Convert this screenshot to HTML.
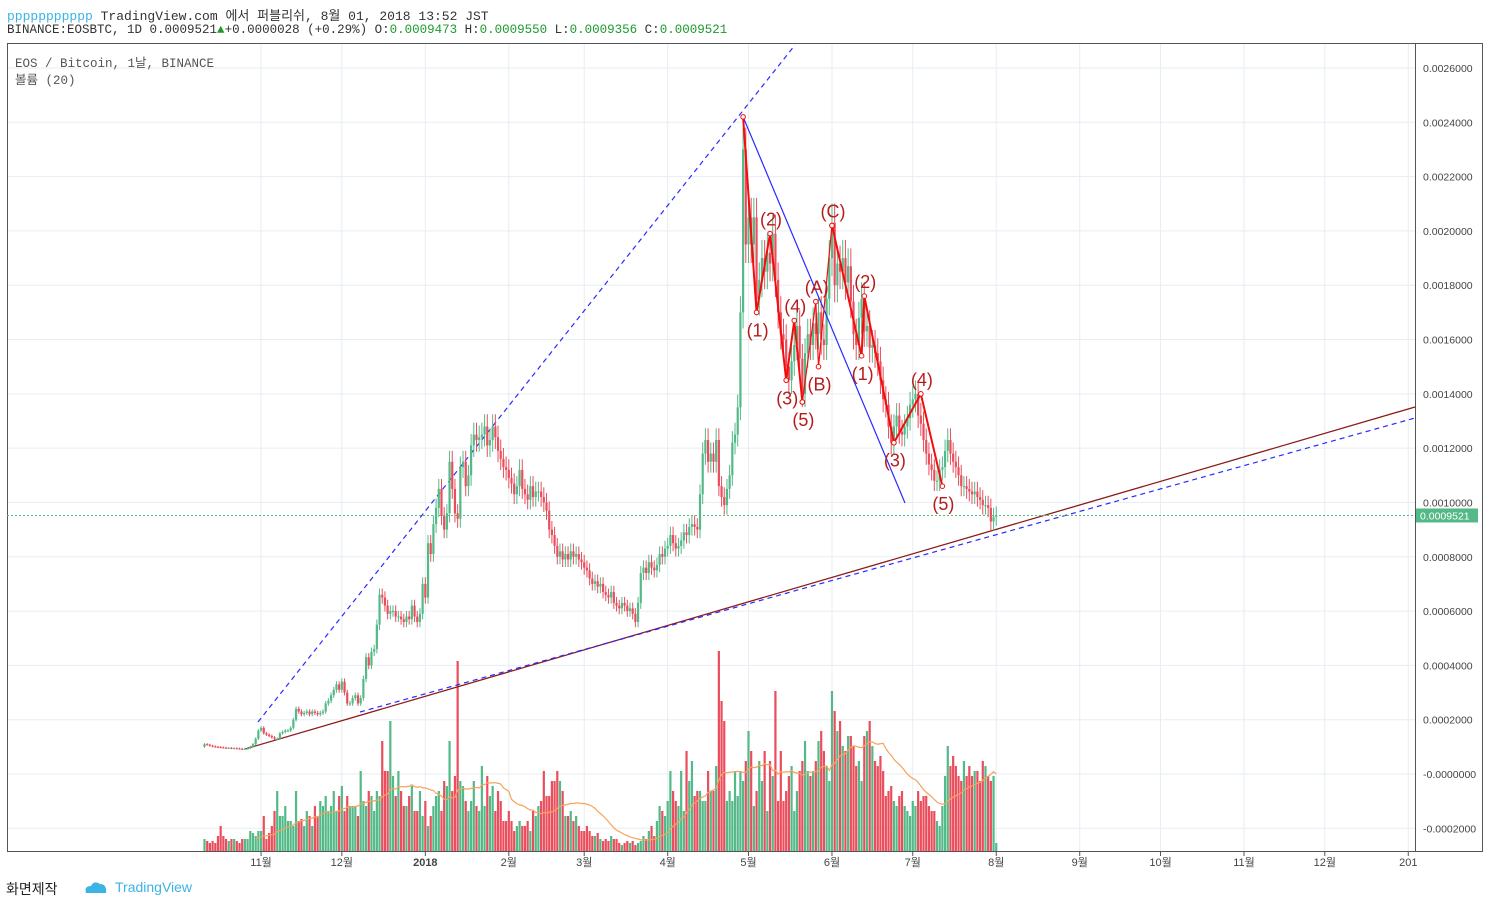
<!DOCTYPE html>
<html><head><meta charset="utf-8">
<style>
body{margin:0;background:#fff;font-family:"Liberation Sans","Noto Sans CJK KR",sans-serif;}
#wrap{position:relative;width:1489px;height:907px;overflow:hidden;background:#fff;}
.hdr{position:absolute;left:7px;font-family:"Liberation Mono","Noto Sans CJK KR",monospace;font-size:13px;color:#333;white-space:nowrap;}
</style></head><body>
<div id="wrap">
<div class="hdr" style="top:5px"><span style="color:#3bb3e4">ppppppppppp</span> TradingView.com 에서 퍼블리쉬, 8월 01, 2018 13:52 JST</div>
<div class="hdr" style="top:23px;font-size:12.5px">BINANCE:EOSBTC, 1D 0.0009521<span style="color:#1c9a2c">▲</span>+0.0000028 (+0.29%) O:<span style="color:#1c9a2c">0.0009473</span> H:<span style="color:#1c9a2c">0.0009550</span> L:<span style="color:#1c9a2c">0.0009356</span> C:<span style="color:#1c9a2c">0.0009521</span></div>
<svg id="svg" width="1489" height="907" style="position:absolute;left:0;top:0"></svg>
<div style="position:absolute;left:6px;top:879px;font-size:14px;color:#222">화면제작</div>
<svg style="position:absolute;left:84px;top:880px" width="24" height="14"><path d="M2 13 Q0 6 7 6 Q10 0 16 4 Q23 4 22 13 Z" fill="#3bb3e4"/></svg>
<div style="position:absolute;left:115px;top:879px;font-size:14px;color:#3bb3e4">TradingView</div>
</div>
<script>
const closes=[1.1,1.08,1.04,1.02,1.0,0.99,0.98,0.97,0.96,0.96,0.95,0.95,0.94,0.93,0.92,0.93,0.95,1.0,1.1,1.3,1.6,
1.7,1.5,1.45,1.4,1.35,1.3,1.3,1.5,1.55,1.6,1.6,1.7,2.0,2.4,2.3,2.2,2.25,2.3,2.2,2.3,2.25,2.2,2.25,2.3,2.6,2.7,2.9,3.1,3.3,3.1,
3.4,3.0,2.6,2.6,2.8,2.9,2.6,2.8,3.5,4.3,4.0,4.5,4.6,5.5,6.6,6.5,6.2,5.9,6.0,6.0,5.8,5.8,5.7,5.6,5.8,5.7,6.2,5.8,5.6,5.9,7.0,
6.5,8.5,8.1,9.2,9.8,10.5,9.5,9.0,9.6,11.5,10.5,9.6,9.4,11.3,11.5,10.6,11.0,12.1,12.5,12.3,12.4,12.5,12.8,12.1,12.3,12.8,12.4,11.9,11.6,11.3,11.2,
10.9,10.7,10.3,10.6,11.2,10.5,10.3,10.1,10.6,10.2,10.4,10.4,10.2,10.0,9.7,9.0,8.8,8.4,8.0,8.2,7.9,8.1,7.9,8.2,8.0,8.1,7.9,7.8,
7.6,7.5,7.2,7.0,7.1,6.9,7.0,6.7,6.6,6.5,6.7,6.3,6.2,6.1,6.3,6.2,6.0,6.1,5.9,5.6,6.3,7.4,7.6,7.4,7.8,7.6,7.5,7.7,8.1,8.0,8.3,
8.4,8.8,8.5,8.3,8.4,8.6,8.9,8.8,9.1,9.2,9.1,9.0,10.3,11.8,12.3,11.5,11.8,11.5,12.3,10.6,10.2,9.9,10.5,11.0,12.2,12.5,13.5,17.0,23.0,19.5,
20.5,19.5,20.5,17.5,18.2,19.0,18.5,19.2,18.8,19.9,18.2,17.0,16.2,16.0,15.0,14.5,15.2,15.8,16.5,15.3,14.0,15.5,16.2,15.8,16.6,16.2,17.0,16.0,15.8,17.5,19.0,
20.3,18.0,18.8,18.5,19.0,18.1,18.7,17.4,16.2,15.8,16.8,17.5,16.3,16.5,15.7,15.8,15.5,15.2,14.5,13.8,13.6,12.8,12.2,12.8,13.2,12.6,12.5,12.8,13.1,13.6,
13.8,14.0,13.2,12.9,12.3,11.8,11.4,11.2,10.8,10.8,11.2,11.3,11.9,12.3,11.8,11.5,11.3,11.0,10.6,10.6,10.5,10.4,10.3,10.4,10.2,10.1,9.9,9.9,9.8,9.3,9.473,
9.521];
const volumes=[12,10,8,10,8,15,25,15,12,10,12,12,10,8,12,12,12,20,18,15,20,
20,35,12,18,25,40,60,35,35,45,30,30,25,60,30,32,25,40,35,25,45,35,50,45,55,40,45,60,40,55,
65,40,55,45,45,45,35,80,50,45,60,55,40,60,55,110,80,80,130,75,55,80,60,45,45,55,65,40,40,60,35,
50,25,35,45,55,60,40,70,65,110,60,75,190,70,65,50,40,50,70,45,40,85,45,75,55,65,40,60,50,30,30,
40,30,20,25,30,25,25,30,20,40,35,45,50,80,55,55,70,70,80,70,60,35,35,40,30,35,25,20,
20,25,20,15,15,18,12,10,12,10,15,12,12,8,6,8,10,8,10,6,8,10,15,12,20,25,15,30,45,40,35,
50,80,60,50,45,80,40,100,70,90,55,60,60,50,50,80,60,60,85,200,150,130,50,60,50,80,55,80,70,90,
120,100,45,60,90,70,100,40,90,75,160,50,100,50,60,75,85,40,60,80,90,110,80,75,80,90,110,120,100,85,70,
160,140,120,130,105,100,115,115,105,85,90,70,115,120,130,105,90,85,95,80,55,60,65,50,45,55,60,45,40,35,
50,45,60,50,55,55,45,40,40,30,25,45,75,105,85,95,85,75,70,90,75,85,75,80,80,70,90,85,75,70,75,
8];
const priceTicks=[26,24,22,20,18,16,14,12,10,8,6,4,2,0,-2];
const monthLabels=["11월","12월","2018","2월","3월","4월","5월","6월","7월","8월","9월","10월","11월","12월","201"];
const monthDays=[21,51,82,113,141,172,202,233,263,294,325,355,386,416,447];
const waves1=[[-2,24.2],[3,17.0],[8,19.9],[14,14.5],[17,16.7],[20,13.7]];
const waves1Labels=["","(1)","(2)","(3)","(4)","(5)"];
const wavesABC=[[20,13.7],[25,17.4],[26,15.0],[31,20.2]];
const wavesABCLabels=["","(A)","(B)","(C)"];
const waves2=[[31,20.2],[42,15.4],[43,17.6],[54,12.2],[64,14.0],[72,10.6]];
const waves2Labels=["","(1)","(2)","(3)","(4)","(5)"];

const NS="http://www.w3.org/2000/svg";
const svg=document.getElementById('svg');
const X0=204.5, DX=2.693, L=7, R=1415, T=43, B=851;
const px=i=>X0+i*DX;
const py=p=>774-p*27.154;
const vy=v=>851-v*1.0;
const mayStart=202;
function mk(tag,attrs,parent){const e=document.createElementNS(NS,tag);for(const k in attrs)e.setAttribute(k,attrs[k]);(parent||svg).appendChild(e);return e;}
const grid=mk('g',{});


priceTicks.forEach(t=>{mk('line',{x1:L,x2:R,y1:py(t),y2:py(t),stroke:'#e6edf3','stroke-width':1},grid);});
monthDays.forEach(d=>{mk('line',{x1:px(d),x2:px(d),y1:T,y2:B,stroke:'#e6edf3','stroke-width':1},grid);});
const fr=mk('rect',{x:L+0.5,y:T+0.5,width:1475,height:B-T,fill:'none',stroke:'#555','stroke-width':1});


const ax=mk('line',{x1:R+0.5,x2:R+0.5,y1:T,y2:B,stroke:'#555'});


priceTicks.forEach(t=>{
 const s=(t<=0?'-':'')+(Math.abs(t)/10000).toFixed(7);
 const tx=mk('text',{x:1423,y:py(t)+4,'font-size':10.5,fill:'#444','font-family':'Liberation Sans, sans-serif'});
 tx.textContent=s;
 
 
});
monthLabels.forEach((m,i)=>{
 const d=monthDays[i];
 mk('line',{x1:px(d),x2:px(d),y1:B,y2:B+5,stroke:'#555'});
 const tx=mk('text',{x:px(d),y:B+15,'font-size':11,fill:'#444','text-anchor':'middle','font-weight':m==='2018'?'bold':'normal','font-family':'Liberation Sans, Noto Sans CJK KR, sans-serif'});
 tx.textContent=m;
 
 
});
const vg=mk('g',{});


volumes.forEach((v,i)=>{
 const up=i===0||closes[i]>=closes[i-1];
 const r=mk('rect',{x:px(i)-1.1,y:vy(v),width:2.2,height:v,fill:up?'#53b987':'#eb4d5c'},vg);
 
 
});
let pts=[];
for(let i=19;i<volumes.length;i++){let s=0;for(let k=i-19;k<=i;k++)s+=volumes[k];pts.push(px(i)+','+vy(s/20));}
const sma=mk('polyline',{points:pts.join(' '),fill:'none',stroke:'#f7a35c','stroke-width':1.2});


const tl1=mk('line',{x1:258,y1:722,x2:795,y2:45,stroke:'#2a2aff','stroke-width':1.2,'stroke-dasharray':'5,4'});


const tl2=mk('line',{x1:245,y1:749,x2:1415,y2:407,stroke:'#8b1a1a','stroke-width':1.3});


const tl3=mk('line',{x1:360,y1:712,x2:1415,y2:418,stroke:'#2a2aff','stroke-width':1.2,'stroke-dasharray':'5,4'});


const cg=mk('g',{});


closes.forEach((c,i)=>{
 const o=i===0?1.0:closes[i-1];
 const up=c>=o, col=up?'#53b987':'#eb4d5c';
 const hi=Math.max(o,c)*1.035, lo=Math.min(o,c)*0.965;
 mk('line',{x1:px(i),x2:px(i),y1:py(hi),y2:py(lo),stroke:col,'stroke-width':1},cg);
 const top=py(Math.max(o,c)), h=Math.max(1,py(Math.min(o,c))-top);
 const r=mk('rect',{x:px(i)-1.1,y:top,width:2.2,height:h,fill:col},cg);
 
 
});
const last=closes[closes.length-1];
const ll=mk('line',{x1:L,x2:R,y1:py(last),y2:py(last),stroke:'#53b987','stroke-width':1,'stroke-dasharray':'2,2'});


const lb=mk('rect',{x:R+1,y:py(last)-7,width:62,height:14,fill:'#53b987'});


const lt=mk('text',{x:R+5,y:py(last)+4,'font-size':10.5,fill:'#fff','font-family':'Liberation Sans, sans-serif'});
lt.textContent=(last/10000).toFixed(7);
const bl=mk('line',{x1:px(mayStart+waves1[0][0]),y1:py(waves1[0][1]),x2:905,y2:503,stroke:'#2a2aff','stroke-width':1.2});


function wave(arr,labels,name,width){
 const g=mk('g',{});
 
 
 mk('polyline',{points:arr.map(p=>px(mayStart+p[0])+','+py(p[1])).join(' '),fill:'none',stroke:'#f20d0d','stroke-width':width},g);
 arr.forEach((p,i)=>{
  mk('circle',{cx:px(mayStart+p[0]),cy:py(p[1]),r:2.3,fill:'#fff',stroke:'#f20d0d','stroke-width':1},g);
  if(labels[i]){
   const up=(i<arr.length-1?arr[i+1][1]<p[1]:arr[i-1][1]<p[1]);
   const t=mk('text',{x:px(mayStart+p[0])+1,y:py(p[1])+(up?-8:24),'font-size':18,fill:'#b71c1c','text-anchor':'middle','font-family':'Liberation Sans, sans-serif'},g);
   t.textContent=labels[i];
   
   
  }
 });
}
wave(waves1,waves1Labels,'wave-impulse-1',2);
wave(wavesABC,wavesABCLabels,'wave-correction-abc',1.2);
wave(waves2,waves2Labels,'wave-impulse-2',2);
const l1=mk('text',{x:15,y:67,'font-size':12.5,fill:'#555','font-family':'Liberation Mono, Noto Sans CJK KR, monospace'});
l1.textContent='EOS / Bitcoin, 1날, BINANCE';


const l2=mk('text',{x:15,y:84,'font-size':12.5,fill:'#555','font-family':'Liberation Mono, Noto Sans CJK KR, monospace'});
l2.textContent='볼륨 (20)';


</script>
</body></html>
